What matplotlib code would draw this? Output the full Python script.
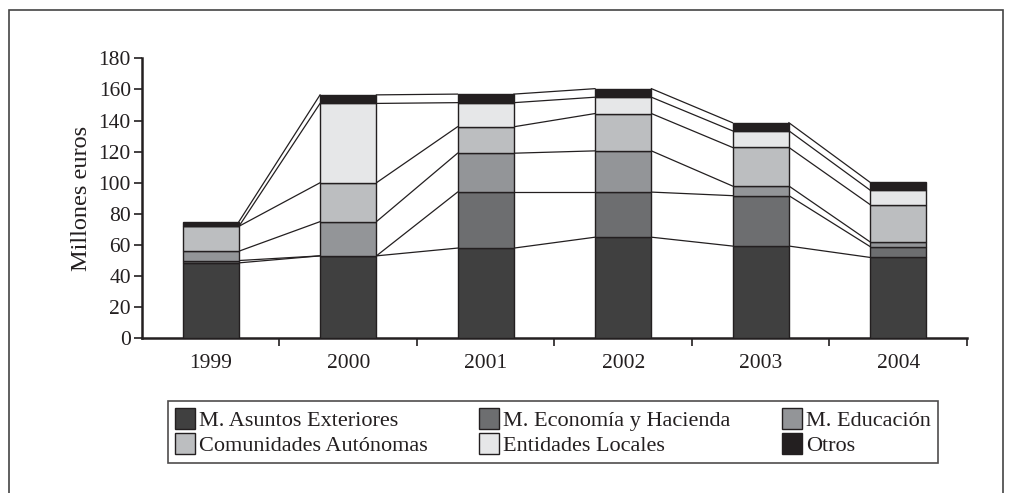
import numpy as np
import matplotlib.pyplot as plt
from matplotlib.patches import Rectangle

plt.rc('font', family='Liberation Serif')

years = ['1999', '2000', '2001', '2002', '2003', '2004']
series_names = ['M. Asuntos Exteriores', 'M. Economía y Hacienda', 'M. Educación',
                'Comunidades Autónomas', 'Entidades Locales', 'Otros']
asuntos_ext = [48.5, 53.0, 58.0, 65.0, 59.3, 52.0]
economia = [1.5, 0.0, 36.0, 29.0, 32.4, 7.0]
educacion = [6.0, 22.0, 25.0, 26.5, 6.2, 3.0]
comunidades = [16.0, 25.0, 17.0, 24.0, 24.8, 24.0]
entidades = [0.0, 51.0, 15.5, 10.5, 10.7, 9.3]
otros = [3.0, 5.5, 5.5, 5.5, 5.2, 5.0]
colors = ['#404040', '#6d6e70', '#939598', '#bcbec0', '#e6e7e8', '#231f20']

ink = '#231f20'
data = np.array([asuntos_ext, economia, educacion, comunidades, entidades, otros])
tops = np.cumsum(data, axis=0)
bottoms = tops - data

fig = plt.figure(figsize=(10.12, 4.93), dpi=100)
ax = fig.add_axes([0.1403, 0.3138, 0.8152, 0.5679])

x = np.arange(len(years))
w = 0.41
for k in range(len(series_names)):
    ax.bar(x, data[k], w, bottom=bottoms[k], color=colors[k], edgecolor=ink,
           linewidth=1.0, label=series_names[k], zorder=3)
    # series lines between bars
    for i in range(len(years) - 1):
        ax.plot([x[i] + w / 2, x[i + 1] - w / 2], [tops[k, i], tops[k, i + 1]],
                color=ink, lw=0.9, zorder=2)

ax.set_xlim(-0.5, len(years) - 0.5)
ax.set_ylim(0, 180)
ax.set_yticks(range(0, 181, 20))
ax.set_xticks(x)
ax.set_xticklabels(years)
ax.set_xticks(np.arange(0.5, len(years), 1.0), minor=True)
ax.tick_params(axis='x', which='major', length=0, pad=11, labelsize=15.5, colors=ink)
ax.tick_params(axis='x', which='minor', length=6, width=1.2, color=ink, direction='out')
ax.tick_params(axis='y', length=6, width=1.2, labelsize=15.5, colors=ink, pad=2)
for s in ['top', 'right']:
    ax.spines[s].set_visible(False)
for s in ['left', 'bottom']:
    ax.spines[s].set_linewidth(1.8)
    ax.spines[s].set_color(ink)
ax.set_ylabel('Millones euros', fontsize=17.5, color=ink, labelpad=5)

handles, labels = ax.get_legend_handles_labels()
order = [0, 3, 1, 4, 2, 5]
leg = fig.legend([handles[i] for i in order], [labels[i] for i in order],
                 loc='lower left', bbox_to_anchor=(168 / 1012, 30 / 493, 770 / 1012, 64 / 493),
                 mode='expand', ncol=3, fontsize=16, frameon=True, fancybox=False,
                 edgecolor=ink, handlelength=0.9, handleheight=1.1, handletextpad=0.2,
                 borderpad=0.3, labelspacing=0.1, borderaxespad=0, columnspacing=1.0)
leg.get_frame().set_linewidth(1.2)
for t in leg.get_texts():
    t.set_color(ink)

# outer frame of the figure
fig.patches.append(Rectangle((9 / 1012, -0.1), 994 / 1012, 1.1 - 10 / 493,
                             transform=fig.transFigure, fill=False,
                             edgecolor='#444444', linewidth=1.2))

fig.savefig('out.png', dpi=100)
